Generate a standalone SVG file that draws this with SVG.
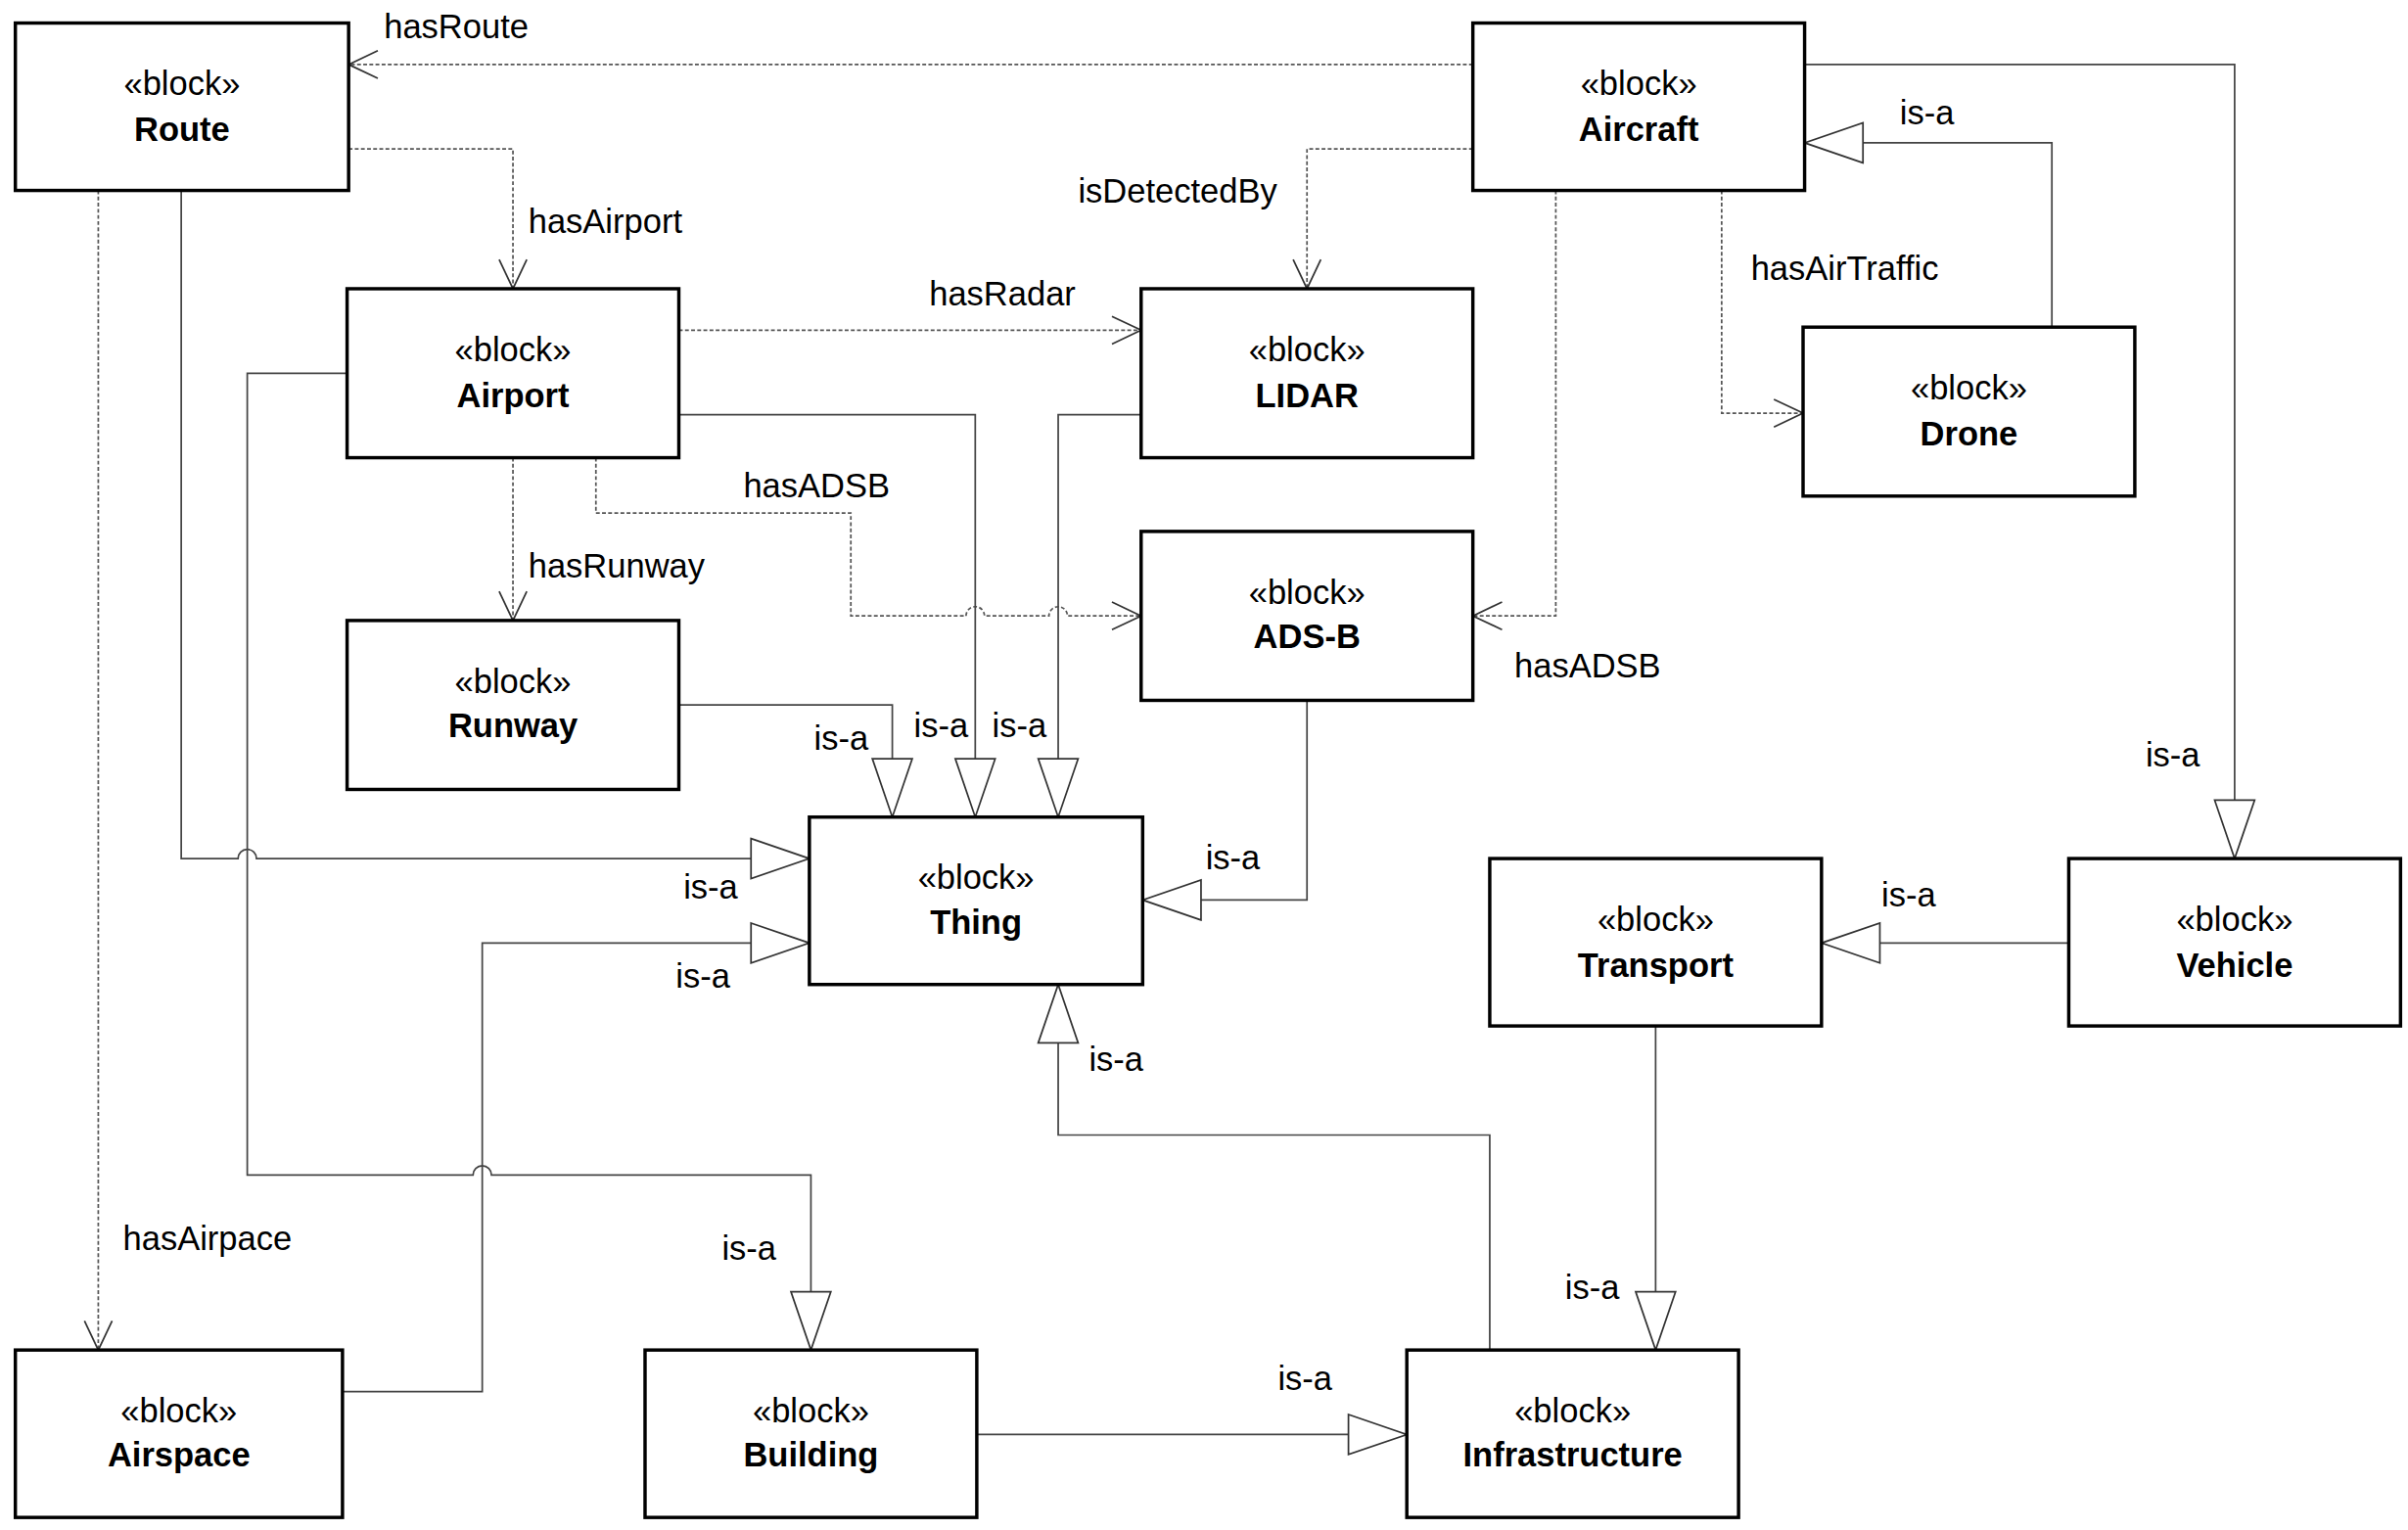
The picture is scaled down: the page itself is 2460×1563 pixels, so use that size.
<svg xmlns="http://www.w3.org/2000/svg" width="2460" height="1563" viewBox="0 0 2460 1563">
<style>
.box{fill:#fff;stroke:#000;stroke-width:2.2}
.st{font-family:"Liberation Sans",Arial,sans-serif;font-size:22px;text-anchor:middle}
.nm{font-family:"Liberation Sans",Arial,sans-serif;font-size:22px;font-weight:bold;text-anchor:middle}
.lb{font-family:"Liberation Sans",Arial,sans-serif;font-size:22px}
.c{fill:none;stroke:#444;stroke-width:1.1}
.d{fill:none;stroke:#555;stroke-width:1.1;stroke-dasharray:2.5,1.5}
</style>
<defs>
<marker id="gen" markerUnits="userSpaceOnUse" markerWidth="42" markerHeight="30" viewBox="-1 -15 42 30" refX="38" refY="0" orient="auto"><path d="M0,-13 L38,0 L0,13 Z" fill="#fff" stroke="#333" stroke-width="1.1"/></marker>
<marker id="open" markerUnits="userSpaceOnUse" markerWidth="24" markerHeight="24" viewBox="-2 -12 24 24" refX="19" refY="0" orient="auto"><path d="M0,-9 L19,0 L0,9" fill="none" stroke="#333" stroke-width="1.1"/></marker>
</defs>
<rect width="2460" height="1563" fill="#fff"/>
<g transform="scale(1.569)">
<g id="connectors">
<path class="d" d="M959,42 L227,42" marker-end="url(#open)"/>
<path class="d" d="M227,97 L334,97 L334,188" marker-end="url(#open)"/>
<path class="d" d="M959,97 L851,97 L851,188" marker-end="url(#open)"/>
<path class="d" d="M442,215 L743,215" marker-end="url(#open)"/>
<path class="d" d="M1121,124 L1121,269 L1174,269" marker-end="url(#open)"/>
<path class="c" d="M1336,213 L1336,93 L1175,93" marker-end="url(#gen)"/>
<path class="c" d="M1175,42 L1455,42 L1455,559" marker-end="url(#gen)"/>
<path class="d" d="M1013,124 L1013,401 L959,401" marker-end="url(#open)"/>
<path class="d" d="M388,298 L388,334 L554,334 L554,401 L629,401 A6,6 0 0 1 641,401 L683,401 A6,6 0 0 1 695,401 L743,401" marker-end="url(#open)"/>
<path class="d" d="M334,298 L334,404" marker-end="url(#open)"/>
<path class="c" d="M442,459 L581,459 L581,532" marker-end="url(#gen)"/>
<path class="c" d="M442,270 L635,270 L635,532" marker-end="url(#gen)"/>
<path class="c" d="M743,270 L689,270 L689,532" marker-end="url(#gen)"/>
<path class="c" d="M851,456 L851,586 L744,586" marker-end="url(#gen)"/>
<path class="c" d="M118,124 L118,559 L155,559 A6,6 0 0 1 167,559 L527,559" marker-end="url(#gen)"/>
<path class="c" d="M223,906 L314,906 L314,614 L527,614" marker-end="url(#gen)"/>
<path class="c" d="M226,243 L161,243 L161,765 L308,765 A6,6 0 0 1 320,765 L528,765 L528,879" marker-end="url(#gen)"/>
<path class="d" d="M64,124 L64,879" marker-end="url(#open)"/>
<path class="c" d="M636,934 L916,934" marker-end="url(#gen)"/>
<path class="c" d="M970,879 L970,739 L689,739 L689,641" marker-end="url(#gen)"/>
<path class="c" d="M1078,668 L1078,879" marker-end="url(#gen)"/>
<path class="c" d="M1347,614 L1186,614" marker-end="url(#gen)"/>
<text class="lb" x="250" y="25">hasRoute</text>
<text class="lb" x="344" y="152">hasAirport</text>
<text class="lb" x="702" y="132">isDetectedBy</text>
<text class="lb" x="605" y="199">hasRadar</text>
<text class="lb" x="1140" y="182">hasAirTraffic</text>
<text class="lb" x="1237" y="81">is-a</text>
<text class="lb" x="1397" y="499">is-a</text>
<text class="lb" x="986" y="441">hasADSB</text>
<text class="lb" x="484" y="324">hasADSB</text>
<text class="lb" x="344" y="376">hasRunway</text>
<text class="lb" x="530" y="488">is-a</text>
<text class="lb" x="595" y="480">is-a</text>
<text class="lb" x="646" y="480">is-a</text>
<text class="lb" x="785" y="566">is-a</text>
<text class="lb" x="445" y="585">is-a</text>
<text class="lb" x="440" y="643">is-a</text>
<text class="lb" x="470" y="820">is-a</text>
<text class="lb" x="80" y="814">hasAirpace</text>
<text class="lb" x="832" y="905">is-a</text>
<text class="lb" x="709" y="697">is-a</text>
<text class="lb" x="1019" y="846">is-a</text>
<text class="lb" x="1225" y="590">is-a</text>
</g>
<g id="route"><rect class="box" x="10" y="15" width="217" height="109"/><text class="st" x="118.5" y="62">«block»</text><text class="nm" x="118.5" y="92">Route</text></g>
<g id="aircraft"><rect class="box" x="959" y="15" width="216" height="109"/><text class="st" x="1067" y="62">«block»</text><text class="nm" x="1067" y="92">Aircraft</text></g>
<g id="airport"><rect class="box" x="226" y="188" width="216" height="110"/><text class="st" x="334" y="235">«block»</text><text class="nm" x="334" y="265">Airport</text></g>
<g id="lidar"><rect class="box" x="743" y="188" width="216" height="110"/><text class="st" x="851" y="235">«block»</text><text class="nm" x="851" y="265">LIDAR</text></g>
<g id="drone"><rect class="box" x="1174" y="213" width="216" height="110"/><text class="st" x="1282" y="260">«block»</text><text class="nm" x="1282" y="290">Drone</text></g>
<g id="adsb"><rect class="box" x="743" y="346" width="216" height="110"/><text class="st" x="851" y="393">«block»</text><text class="nm" x="851" y="422">ADS-B</text></g>
<g id="runway"><rect class="box" x="226" y="404" width="216" height="110"/><text class="st" x="334" y="451">«block»</text><text class="nm" x="334" y="480">Runway</text></g>
<g id="thing"><rect class="box" x="527" y="532" width="217" height="109"/><text class="st" x="635.5" y="579">«block»</text><text class="nm" x="635.5" y="608">Thing</text></g>
<g id="transport"><rect class="box" x="970" y="559" width="216" height="109"/><text class="st" x="1078" y="606">«block»</text><text class="nm" x="1078" y="636">Transport</text></g>
<g id="vehicle"><rect class="box" x="1347" y="559" width="216" height="109"/><text class="st" x="1455" y="606">«block»</text><text class="nm" x="1455" y="636">Vehicle</text></g>
<g id="airspace"><rect class="box" x="10" y="879" width="213" height="109"/><text class="st" x="116.5" y="926">«block»</text><text class="nm" x="116.5" y="955">Airspace</text></g>
<g id="building"><rect class="box" x="420" y="879" width="216" height="109"/><text class="st" x="528" y="926">«block»</text><text class="nm" x="528" y="955">Building</text></g>
<g id="infrastructure"><rect class="box" x="916" y="879" width="216" height="109"/><text class="st" x="1024" y="926">«block»</text><text class="nm" x="1024" y="955">Infrastructure</text></g>
</g>
</svg>
